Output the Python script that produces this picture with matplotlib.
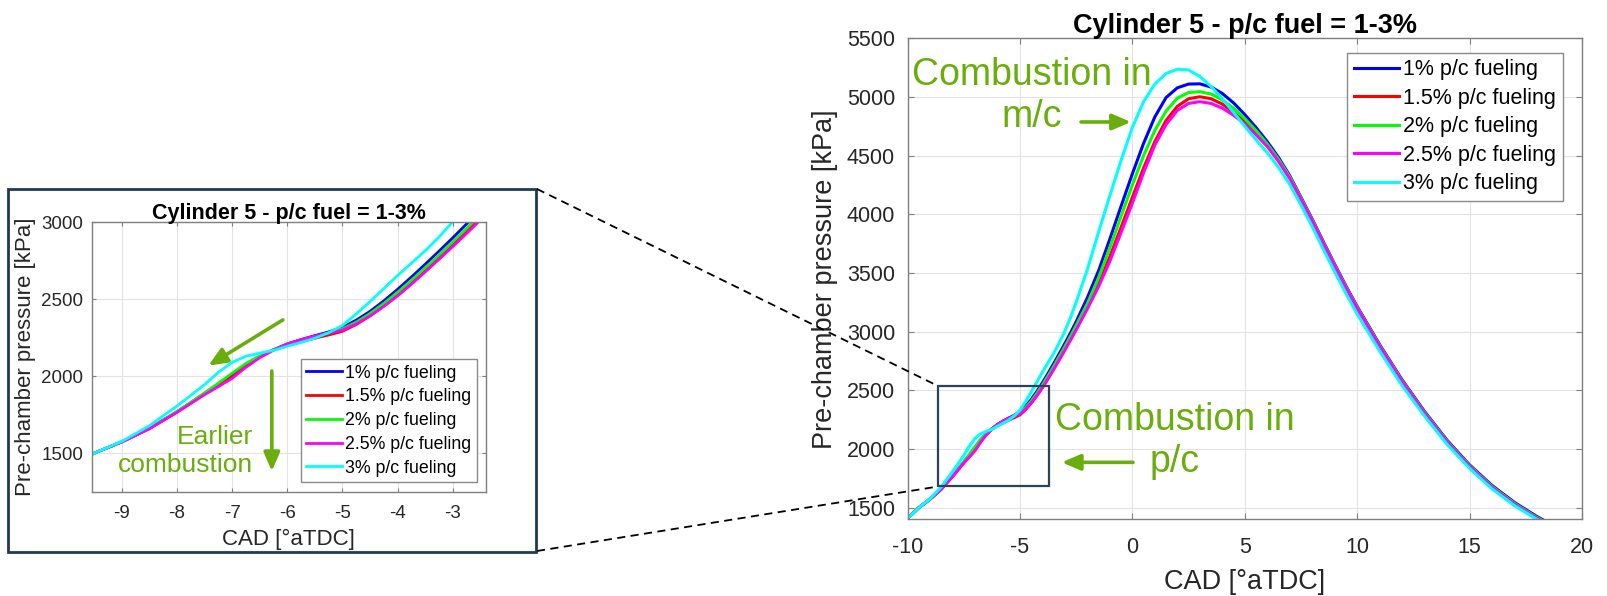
import matplotlib
matplotlib.use("Agg")
import matplotlib.pyplot as plt
from matplotlib.lines import Line2D
from matplotlib.patches import Rectangle

plt.rcParams['font.family'] = ['Liberation Sans', 'DejaVu Sans']
plt.rcParams['axes.unicode_minus'] = False

# crank angle [deg aTDC] and pre-chamber pressure [kPa]
cad = [-10, -9.5, -9, -8.5, -8, -7.5,
       -7.25, -7, -6.75, -6.5, -6.25, -6, -5.75, -5.5, -5.25, -5,
       -4.75, -4.5, -4.25, -4, -3.75, -3.5, -3.25, -3, -2.75, -2.5,
       -2, -1.5, -1, -0.5, 0, 0.5, 1, 1.5, 2, 2.5, 3,
       3.5, 4, 4.5, 5, 5.5, 6, 6.5, 7, 7.5, 8, 8.5, 9, 9.5, 10,
       11, 12, 13, 14, 15, 16, 17, 18, 18.5]

p_1 = [1410, 1500, 1574, 1661, 1769, 1888,
       1945, 2005, 2073, 2127, 2172, 2210, 2238, 2264, 2288, 2318,
       2365, 2422, 2490, 2565, 2645, 2728, 2813, 2900, 2990, 3085,
       3290, 3520, 3790, 4070, 4345, 4605, 4830, 4995, 5078, 5110, 5112,
       5085, 5030, 4950, 4850, 4740, 4620, 4485, 4330, 4145, 3960, 3765, 3575, 3390, 3215,
       2890, 2590, 2320, 2075, 1865, 1690, 1545, 1425, 1372]
p_15 = [1410, 1500, 1573, 1659, 1767, 1884,
        1940, 1995, 2065, 2124, 2170, 2200, 2225, 2247, 2268, 2292,
        2336, 2392, 2456, 2527, 2604, 2685, 2767, 2852, 2938, 3027,
        3210, 3410, 3640, 3890, 4145, 4395, 4620, 4800, 4920, 4985, 5002,
        4985, 4940, 4870, 4790, 4695, 4590, 4462, 4313, 4132, 3948, 3753, 3563, 3378, 3203,
        2878, 2578, 2308, 2063, 1853, 1678, 1533, 1413, 1360]
p_2 = [1410, 1500, 1574, 1661, 1770, 1892,
       1955, 2019, 2083, 2132, 2172, 2205, 2232, 2258, 2282, 2308,
       2352, 2408, 2474, 2546, 2624, 2705, 2788, 2874, 2962, 3053,
       3240, 3460, 3715, 3985, 4250, 4500, 4715, 4880, 4990, 5038, 5045,
       5025, 4975, 4905, 4815, 4715, 4600, 4470, 4320, 4137, 3952, 3757, 3567, 3382, 3207,
       2882, 2582, 2312, 2067, 1857, 1682, 1537, 1417, 1364]
p_25 = [1410, 1500, 1572, 1658, 1765, 1880,
        1932, 1986, 2058, 2120, 2170, 2210, 2238, 2262, 2280, 2300,
        2340, 2392, 2454, 2522, 2598, 2678, 2760, 2843, 2928, 3015,
        3195, 3385, 3600, 3845, 4095, 4355, 4590, 4765, 4885, 4945, 4960,
        4945, 4905, 4845, 4770, 4678, 4578, 4452, 4305, 4128, 3945, 3750, 3560, 3375, 3200,
        2875, 2575, 2305, 2060, 1850, 1675, 1530, 1410, 1357]
p_3 = [1410, 1500, 1576, 1678, 1806, 1945,
       2025, 2090, 2130, 2150, 2168, 2195, 2220, 2247, 2283, 2330,
       2405, 2485, 2570, 2655, 2735, 2815, 2905, 3005, 3120, 3250,
       3530, 3850, 4160, 4460, 4740, 4960, 5110, 5200, 5236, 5230, 5175,
       5090, 4985, 4870, 4750, 4635, 4525, 4400, 4255, 4080, 3895, 3700, 3510, 3325, 3150,
       2835, 2540, 2280, 2040, 1835, 1660, 1518, 1400, 1348]

labels = ['1% p/c fueling', '1.5% p/c fueling', '2% p/c fueling', '2.5% p/c fueling', '3% p/c fueling']
colors = ['#0000ff', '#ff0000', '#00ff00', '#ff00ff', '#00ffff']
series = [p_1, p_15, p_2, p_25, p_3]

title = 'Cylinder 5 - p/c fuel = 1-3%'
green = '#69ae0c'
spine_c = '#7f7f7f'
text_c = '#262626'

fig = plt.figure(figsize=(16.08, 5.96), dpi=100)


def style_axes(ax, tick_fs, xpad, ypad, tlen):
    ax.grid(True, color='#e3e3e3', lw=0.8)
    ax.set_axisbelow(True)
    for s in ax.spines.values():
        s.set_color(spine_c)
        s.set_linewidth(1.0)
    ax.tick_params(direction='in', top=True, right=True, length=tlen, width=0.8,
                   color=spine_c, labelsize=tick_fs, labelcolor=text_c)
    ax.tick_params(axis='x', pad=xpad)
    ax.tick_params(axis='y', pad=ypad)


# ---- main chart ----
ax = fig.add_axes([0.56437, 0.12836, 0.41947, 0.80738])
for p, c, lab in zip(series, colors, labels):
    ax.plot(cad, p, color=c, lw=2.2, label=lab)
ax.set_xlim(-10, 20)
ax.set_ylim(1400, 5500)
ax.set_xticks(range(-10, 21, 5))
ax.set_yticks(range(1500, 5501, 500))
style_axes(ax, 15.5, 12.8, 9, 4.5)
ax.set_title(title, fontsize=19.5, fontweight='bold', pad=3.8)
ax.set_xlabel('CAD [°aTDC]', fontsize=19.5, color=text_c)
ax.set_ylabel('Pre-chamber pressure [kPa]', fontsize=19.5, color=text_c)
ax.xaxis.set_label_coords(0.5, -0.102)
ax.yaxis.set_label_coords(-0.103, 0.5)

leg = ax.legend(loc='upper left', bbox_to_anchor=(0.8379, 0.9116), bbox_transform=fig.transFigure,
                borderaxespad=0, fontsize=15.5, handlelength=2.1, handletextpad=0.2, borderpad=0.3,
                labelspacing=0.35, fancybox=False, edgecolor='#8a8a8a', framealpha=1)
leg.get_frame().set_linewidth(1.0)

ax.add_patch(Rectangle((-8.63, 1685), 4.94, 852, fill=False, ec='#2c4257', lw=1.6, zorder=5))

arrow_kw = dict(arrowstyle='-|>,head_length=0.7,head_width=0.3', color=green, lw=2.6,
                mutation_scale=16, shrinkA=0, shrinkB=0)
ax.text(-4.46, 5008, 'Combustion in\nm/c', fontsize=27, color=green, ha='center', va='center')
ax.annotate('', xy=(-0.06, 4787), xytext=(-2.28, 4787), arrowprops=arrow_kw)
ax.text(1.90, 2069, 'Combustion in\np/c', fontsize=27, color=green, ha='center', va='center')
ax.annotate('', xy=(-3.14, 1887), xytext=(0.03, 1887), arrowprops=arrow_kw)

# ---- zoomed inset ----
ax2 = fig.add_axes([0.05703, 0.17500, 0.24521, 0.45201])
for p, c, lab in zip(series, colors, labels):
    ax2.plot(cad, p, color=c, lw=2.0, label=lab)
ax2.set_xlim(-9.543, -2.40)
ax2.set_ylim(1250, 3000)
ax2.set_xticks(range(-9, -2))
ax2.set_yticks(range(1500, 3001, 500))
style_axes(ax2, 13.5, 9.6, 6, 3)
ax2.set_title(title, fontsize=15.5, fontweight='bold', pad=2.7)
ax2.set_xlabel('CAD [°aTDC]', fontsize=16, color=text_c)
ax2.set_ylabel('Pre-chamber pressure [kPa]', fontsize=16, color=text_c)
ax2.xaxis.set_label_coords(0.5, -0.138)
ax2.yaxis.set_label_coords(-0.142, 0.5)

leg2 = ax2.legend(loc='upper left', bbox_to_anchor=(0.18719, 0.39715), bbox_transform=fig.transFigure,
                  borderaxespad=0, fontsize=12.8, handlelength=2.0, handletextpad=0.2, borderpad=0.3,
                  labelspacing=0.38, fancybox=False, edgecolor='#8a8a8a', framealpha=1)
leg2.get_frame().set_linewidth(1.0)

ax2.text(-6.62, 1515, 'Earlier\ncombustion', fontsize=19, color=green, ha='right', va='center',
         multialignment='right')
ax2.annotate('', xy=(-7.43, 2069), xytext=(-6.08, 2366), arrowprops=arrow_kw)
ax2.annotate('', xy=(-6.28, 1383), xytext=(-6.28, 2034), arrowprops=arrow_kw)

# frame round the inset and the dashed zoom lines
W, H = 1608.0, 596.0
fig.add_artist(Rectangle((8.3 / W, 1 - 551.7 / H), (536 - 8.3) / W, (551.7 - 188.5) / H,
                         transform=fig.transFigure, fill=False, ec='#1d3a57', lw=2.0))
for (x0, y0), (x1, y1) in [((537, 189), (936, 385)), ((537, 551), (938, 486.5))]:
    fig.add_artist(Line2D([x0 / W, x1 / W], [1 - y0 / H, 1 - y1 / H], transform=fig.transFigure,
                          color='k', lw=1.3, ls=(0, (4.5, 3))))

fig.savefig('out.png', dpi=100)
